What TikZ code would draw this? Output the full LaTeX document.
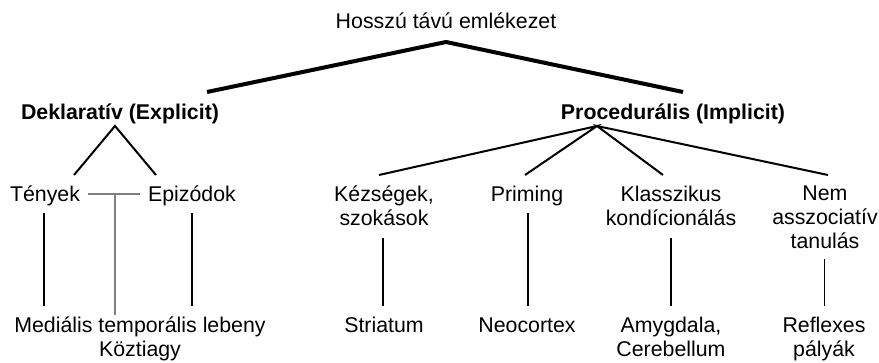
\documentclass[tikz,border=0pt]{standalone}
\usepackage{fontspec}
\setmainfont{Liberation Sans}
\begin{document}
\begin{tikzpicture}[x=1pt, y=-1pt,
  lbl/.style={inner sep=0pt, anchor=base, align=center, font=\fontsize{21.33}{24}\selectfont},
  hdr/.style={lbl, font=\fontsize{21.33}{24}\selectfont\bfseries},
  trunk/.style={line width=4pt},
  branch/.style={line width=2pt},
  fine/.style={line width=1pt},
  shared/.style={line width=2pt, gray}]
\useasboundingbox (0,0) rectangle (879,362);

% labels (base = last line)
\node[lbl] (ltm) at (446,28) {Hosszú távú emlékezet};
\node[hdr] (dekl) at (120,119) {Deklaratív (Explicit)};
\node[hdr] (proc) at (673,119) {Procedurális (Implicit)};

\node[lbl] (tenyek) at (45,201) {Tények};
\node[lbl] (epizod) at (192,201) {Epizódok};
\node[lbl] (kezseg) at (384,225) {Kézségek,\\szokások};
\node[lbl] (priming) at (527,201) {Priming};
\node[lbl] (klassz) at (671,225) {Klasszikus\\kondícionálás};
\node[lbl] (nemassz) at (825,248) {Nem\\asszociatív\\tanulás};

\node[lbl] (medtemp) at (140,356) {Mediális temporális lebeny\\Köztiagy};
\node[lbl] (striatum) at (384,332) {Striatum};
\node[lbl] (neocortex) at (527,332) {Neocortex};
\node[lbl] (amygdala) at (671,356) {Amygdala,\\Cerebellum};
\node[lbl] (reflex) at (824,356) {Reflexes\\pályák};

% branch points
\coordinate (ltm-s) at (446,42);
\coordinate (dekl-n) at (207,92);
\coordinate (proc-n) at (683,92);
\coordinate (dekl-s) at (115,126);
\coordinate (proc-s) at (597,126);
\coordinate (tenyek-n) at (74,175);
\coordinate (epizod-n) at (156,175);
\coordinate (kezseg-n) at (379,175);
\coordinate (priming-n) at (525,175);
\coordinate (klassz-n) at (663,175);
\coordinate (nemassz-n) at (828,175);

\draw[trunk] (dekl-n)--(ltm-s)--(proc-n);
\draw[branch] (tenyek-n)--(dekl-s)--(epizod-n);
\draw[branch] (kezseg-n)--(proc-s)--(priming-n);
\draw[branch] (klassz-n)--(proc-s)--(nemassz-n);

% shared region
\coordinate (tenyek-e) at (88,194);
\coordinate (epizod-w) at (140,194);
\coordinate (shared-top) at (115,194);
\coordinate (medtemp-n) at (115,315);
\draw[shared] (tenyek-e)--(epizod-w);
\draw[shared] (shared-top)--(medtemp-n);

% regions
\draw[branch] (44,213)--(44,306);
\draw[branch] (192,213)--(192,306);
\draw[branch] (383,238)--(383,306);
\draw[branch] (528,213)--(528,306);
\draw[branch] (671,238)--(671,306);
\draw[fine] (824,259)--(824,306);
\end{tikzpicture}
\end{document}
